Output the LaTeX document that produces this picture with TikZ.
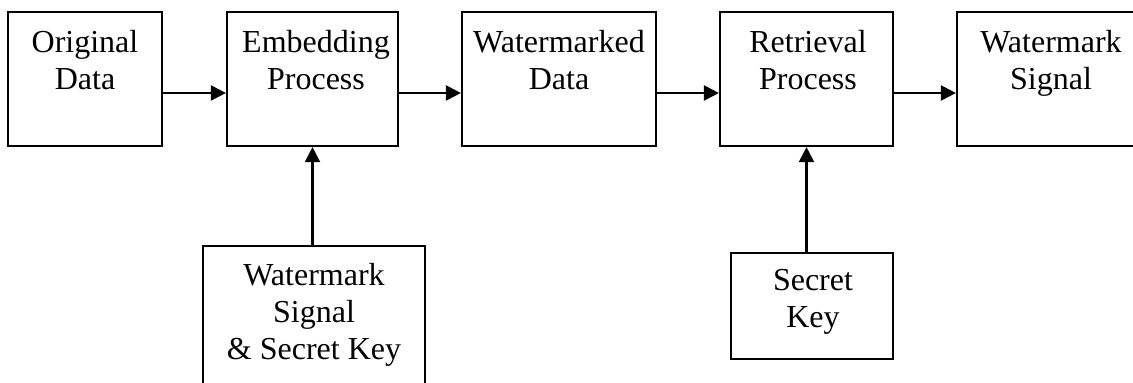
\documentclass[tikz,border=0pt]{standalone}
\usepackage{fontspec}
\setmainfont{Liberation Serif}
\usetikzlibrary{arrows.meta}
\begin{document}
\begin{tikzpicture}[x=0.5pt,y=-0.5pt,
  box/.style={draw, line width=1.1pt, inner sep=0pt},
  lbl/.style={anchor=base, align=center, inner sep=0pt,
    font=\fontsize{16pt}{18.5pt}\selectfont},
  arr/.style={line width=1.1pt, -{Triangle[length=7.5pt,width=7.5pt]}}]
\useasboundingbox (0,0) rectangle (1133,383);
\clip (0,0) rectangle (1133,383);
% top row of processing blocks
\node[box, minimum width=77pt, minimum height=67pt] (b1) at (85,79) {};
\node[box, minimum width=85.5pt, minimum height=67pt] (b2) at (312.5,79) {};
\node[box, minimum width=97pt, minimum height=67pt] (b3) at (559,79) {};
\node[box, minimum width=86.5pt, minimum height=67pt] (b4) at (806.5,79) {};
\node[box, minimum width=94pt, minimum height=67pt] (b5) at (1051,79) {};
% inputs below
\node[box, minimum width=111pt, minimum height=77pt] (b6) at (314,323) {};
\node[box, minimum width=81pt, minimum height=53pt] (b7) at (812,306) {};
% texts (placed by the baseline of their last line)
\node[lbl] (t1) at (85,90) {Original\\Data};
\node[lbl] (t2) at (316,90) {Embedding\\Process};
\node[lbl] (t3) at (559,90) {Watermarked\\Data};
\node[lbl] (t4) at (808,90) {Retrieval\\Process};
\node[lbl] (t5) at (1051,90) {Watermark\\Signal};
\node[lbl] (t6) at (314,360) {Watermark\\Signal\\\& Secret Key};
\node[lbl] (t7) at (813,328) {Secret\\Key};
% connectors
\draw[arr] ([yshift=-7pt]b1.east) -- ([yshift=-7pt]b2.west);
\draw[arr] ([yshift=-7pt]b2.east) -- ([yshift=-7pt]b3.west);
\draw[arr] ([yshift=-7pt]b3.east) -- ([yshift=-7pt]b4.west);
\draw[arr] ([yshift=-7pt]b4.east) -- ([yshift=-7pt]b5.west);
\draw[arr] (b6.north -| b2.south) -- (b2.south);
\draw[arr] (b7.north -| b4.south) -- (b4.south);
\end{tikzpicture}
\end{document}
